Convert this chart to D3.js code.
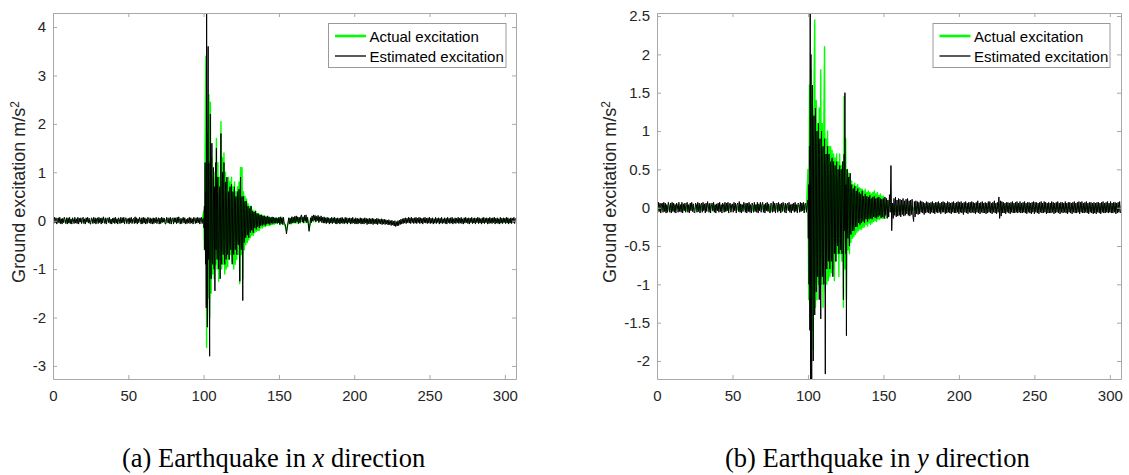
<!DOCTYPE html>
<html>
<head>
<meta charset="utf-8">
<script src="https://cdn.jsdelivr.net/npm/d3@7"></script>
<style>
  html, body { margin: 0; padding: 0; background: #fff; }
  svg { display: block; }
</style>
</head>
<body>
<svg id="chart" width="1129" height="475"></svg>
<script>
// ---------------- DATA ----------------
const xTicks = [0, 50, 100, 150, 200, 250, 300];
const xDomain = [0, 307.4];
const yTicksA = [-3, -2, -1, 0, 1, 2, 3, 4];
const yDomainA = [-3.27, 4.29];
const yTicksB = [-2, -1.5, -1, -0.5, 0, 0.5, 1, 1.5, 2, 2.5];
const yDomainB = [-2.235, 2.54];
const seriesNames = ["Actual excitation", "Estimated excitation"];
const captionsA = ["(a) Earthquake in ", "x", " direction"];
const captionsB = ["(b) Earthquake in ", "y", " direction"];
const yLabelText = "Ground excitation m/s";

// sampling of each record segment: [start time, time step]
const sampActual = { pre: [0, 1], strong: [100, 0.5], tail: [150, 1] };
const sampEstimated = { pre: [0, 0.5], strong: [100, 0.25], tail: [150, 0.5] };

// ---- (a) x direction: actual ----
const xActualPre = [
0.02,-0.01,0.02,-0.03,0.01,0.02,-0.02,0.01,-0.03,0.02,
0.01,-0.02,0.03,-0.01,0.02,-0.02,0.01,0.03,-0.02,0.01,
-0.03,0.02,-0.01,0.02,0.01,-0.02,0.03,-0.01,0.02,-0.03,
0.01,0.02,-0.02,0.01,0.03,-0.01,0.02,-0.03,0.01,0.02,
-0.02,0.03,-0.01,0.02,-0.02,0.01,-0.03,0.02,0.01,-0.02,
0.02,-0.01,0.03,-0.02,0.01,-0.03,0.02,0.01,-0.01,0.03,
-0.02,0.01,0.02,-0.03,0.02,-0.01,0.03,-0.02,0.01,0.02,
-0.01,0.03,-0.02,0.01,-0.02,0.02,-0.03,0.01,0.02,-0.01,
0.02,-0.03,0.01,0.02,-0.02,0.03,-0.01,0.01,-0.02,0.02,
-0.01,0.03,-0.02,0.01,0.02,-0.03,0.02,-0.01,0.01,-0.02];
const xActualStrong = [
0.20,-0.60,1.50,3.40,-2.62,1.80,-1.60,2.60,-2.00,2.45,
-1.50,1.30,-1.10,0.90,-1.20,1.00,-0.90,1.70,-1.00,1.20,
-1.25,0.90,-0.80,2.05,-1.00,1.30,-0.90,1.40,-1.10,1.00,
-1.00,0.80,-0.95,0.90,-0.80,0.80,-0.70,0.90,-0.85,0.70,
-1.00,0.80,-0.90,0.60,-0.80,0.70,-0.70,0.80,-1.30,1.10,
-0.70,1.10,-1.20,0.60,-0.60,0.50,-0.50,0.45,-0.45,0.35,
-0.40,0.30,-0.35,0.30,-0.30,0.22,-0.30,0.20,-0.25,0.20,
-0.22,0.15,-0.20,0.15,-0.20,0.12,-0.15,0.12,-0.15,0.10,
-0.12,0.10,-0.12,0.08,-0.10,0.08,-0.10,0.06,-0.10,0.06,
-0.08,0.06,-0.08,0.05,-0.07,0.05,-0.06,0.05,-0.06,0.04];
const xActualTail = [
0.06,-0.08,0.07,-0.06,-0.10,-0.20,-0.06,0.05,-0.07,0.07,
-0.05,0.06,-0.05,0.04,-0.05,0.07,-0.03,0.08,-0.04,0.03,
-0.16,-0.05,0.06,-0.02,0.08,0.01,0.07,-0.01,0.06,0.01,
0.05,-0.02,0.04,-0.03,0.03,-0.02,0.04,-0.03,0.03,-0.04,
0.02,-0.03,0.04,-0.02,0.03,-0.04,0.02,-0.03,0.03,-0.03,
0.02,-0.04,0.03,-0.03,0.02,-0.04,0.03,-0.02,0.02,-0.05,
0.01,-0.04,0.03,-0.03,0.01,-0.05,0.02,-0.04,0.01,-0.03,
0.00,-0.05,-0.01,-0.06,-0.02,-0.07,-0.04,-0.09,-0.06,-0.08,
-0.03,-0.05,0.00,-0.03,0.02,-0.02,0.03,-0.01,0.04,-0.02,
0.03,-0.01,0.04,-0.02,0.03,-0.02,0.04,-0.02,0.02,-0.01,
0.03,-0.02,0.01,-0.03,0.02,-0.01,0.03,-0.03,0.01,-0.02,
0.03,-0.01,0.02,-0.03,0.01,-0.02,0.03,-0.01,0.02,-0.03,
0.04,-0.01,0.02,-0.02,0.03,-0.01,0.04,-0.02,0.01,-0.03,
0.02,-0.01,0.04,-0.02,0.03,-0.03,0.01,-0.02,0.03,-0.01,
0.02,-0.03,0.04,-0.01,0.02,-0.02,0.03,-0.04,0.01,-0.02,
0.03,-0.01,0.02,-0.03,0.04,-0.01,0.02,-0.02];

// ---- (a) x direction: estimated ----
const xEstimatedPre = [
0.05,-0.06,0.07,-0.04,0.06,-0.07,0.03,0.06,-0.05,0.07,-0.06,0.04,-0.07,0.05,-0.04,0.07,0.02,-0.06,0.06,-0.07,
0.06,-0.05,0.07,-0.06,0.03,-0.07,0.06,0.02,-0.06,0.07,-0.05,0.04,-0.06,0.07,-0.07,0.05,-0.03,0.06,-0.06,0.04,
0.07,-0.06,0.04,-0.07,0.06,-0.03,0.07,-0.05,0.05,-0.06,-0.07,0.06,0.03,-0.06,0.07,-0.05,0.06,-0.07,0.04,0.06,
-0.06,0.07,-0.04,0.05,-0.07,0.06,-0.05,0.08,0.01,-0.06,0.06,-0.07,0.04,0.06,-0.04,0.07,-0.06,0.03,-0.07,0.05,
-0.04,0.06,-0.06,0.07,-0.05,0.04,-0.07,0.06,0.03,-0.06,0.07,-0.05,0.06,-0.04,0.07,-0.07,0.05,0.06,-0.06,0.03,
0.05,-0.07,0.06,-0.04,0.07,-0.06,0.03,0.05,-0.06,0.08,-0.05,0.06,-0.07,0.04,-0.04,0.07,0.02,-0.07,0.06,-0.06,
0.07,-0.05,0.06,-0.07,0.04,-0.06,0.07,0.03,-0.05,0.06,-0.06,0.04,-0.07,0.06,-0.06,0.05,-0.04,0.07,-0.06,0.02,
0.06,-0.07,0.05,-0.06,0.07,-0.04,0.06,-0.03,0.05,-0.07,-0.06,0.07,0.03,-0.05,0.06,-0.06,0.07,-0.07,0.04,0.06,
-0.07,0.06,-0.03,0.06,-0.06,0.07,-0.05,0.08,0.01,-0.07,0.05,-0.06,0.04,0.07,-0.05,0.06,-0.07,0.03,-0.06,0.05,
-0.05,0.07,-0.06,0.06,-0.05,0.04,-0.07,0.07,0.03,-0.06,0.06,-0.05,0.07,-0.04,0.06,-0.07,0.05,0.07,-0.06,0.04];
const xEstimatedStrong = [
0.05,-0.15,0.30,-0.60,1.20,-0.90,0.60,-1.80,
4.40,-1.20,-2.20,1.70,3.60,-0.80,1.20,-1.50,
-2.80,0.90,2.20,-1.00,-1.20,0.80,1.60,-0.70,
-0.90,0.60,1.10,-0.50,-1.00,0.70,-1.45,0.50,
1.20,-0.60,1.50,-0.50,-0.80,0.60,0.90,-0.70,
-1.00,0.50,0.70,-0.60,-1.20,0.40,1.80,-0.50,
-0.90,0.60,1.00,-0.50,-0.70,0.50,1.20,-0.60,
-0.90,0.50,0.80,-0.40,-0.80,0.50,0.90,-0.50,
-0.70,0.40,0.60,-0.50,-0.80,0.45,0.70,-0.40,
-0.60,0.50,0.75,-0.40,-0.90,0.40,0.60,-0.45,
-0.70,0.40,0.70,-0.35,-0.60,0.40,0.50,-0.40,
-0.70,0.35,0.60,-0.40,-0.50,0.35,0.65,-0.30,
-1.25,0.40,0.90,-0.35,-0.60,0.30,0.50,-0.40,
-1.65,0.30,0.50,-0.30,-0.45,0.25,0.40,-0.30,
-0.35,0.25,0.40,-0.20,-0.30,0.20,0.30,-0.25,
-0.35,0.20,0.25,-0.20,-0.25,0.18,0.30,-0.15,
-0.20,0.15,0.20,-0.15,-0.25,0.12,0.18,-0.12,
-0.15,0.12,0.20,-0.10,-0.18,0.10,0.15,-0.12,
-0.12,0.10,0.14,-0.08,-0.15,0.08,0.12,-0.10,
-0.10,0.08,0.12,-0.08,-0.10,0.07,0.10,-0.06,
-0.08,0.06,0.10,-0.07,-0.10,0.05,0.08,-0.07,
-0.07,0.06,0.10,-0.05,-0.06,0.05,0.08,-0.06,
-0.08,0.05,0.06,-0.05,-0.05,0.06,0.08,-0.04,
-0.06,0.05,0.07,-0.04,-0.05,0.04,0.06,-0.05,
-0.04,0.05,0.06,-0.05,-0.05,0.04,0.05,-0.04];
const xEstimatedTail = [
0.07,-0.08,0.08,-0.06,0.06,-0.08,0.07,-0.05,-0.06,-0.14,-0.27,-0.16,-0.05,0.06,-0.07,0.05,-0.06,0.08,-0.05,0.07,
-0.04,0.09,-0.05,0.10,-0.02,0.08,-0.06,0.07,-0.04,0.09,0.12,-0.03,0.08,-0.05,0.11,-0.01,0.12,-0.04,0.07,-0.06,
-0.22,-0.10,0.06,-0.04,0.10,-0.01,0.12,0.01,0.11,-0.03,0.09,0.00,0.11,-0.04,0.08,-0.01,0.10,-0.04,0.07,-0.05,
0.08,-0.05,0.06,-0.06,0.07,-0.04,0.06,-0.07,0.05,-0.05,0.07,-0.06,0.06,-0.04,0.07,-0.06,0.05,-0.07,0.06,-0.05,
0.05,-0.07,0.06,-0.05,0.07,-0.06,0.04,-0.06,0.07,-0.05,0.06,-0.07,0.05,-0.04,0.06,-0.07,0.05,-0.06,0.07,-0.05,
0.04,-0.07,0.06,-0.06,0.05,-0.07,0.04,-0.05,0.06,-0.07,0.05,-0.06,0.04,-0.07,0.06,-0.05,0.05,-0.08,0.04,-0.06,
0.05,-0.07,0.04,-0.06,0.05,-0.08,0.04,-0.06,0.03,-0.07,0.05,-0.08,0.04,-0.06,0.03,-0.07,0.04,-0.08,0.03,-0.07,
0.03,-0.08,0.02,-0.07,0.01,-0.09,0.02,-0.08,0.00,-0.10,0.01,-0.09,-0.01,-0.11,0.00,-0.12,-0.02,-0.11,0.00,-0.10,
0.01,-0.08,0.03,-0.07,0.04,-0.06,0.05,-0.05,0.06,-0.06,0.05,-0.04,0.07,-0.05,0.06,-0.06,0.07,-0.04,0.05,-0.06,
0.06,-0.05,0.07,-0.06,0.05,-0.04,0.07,-0.06,0.06,-0.05,0.05,-0.07,0.06,-0.04,0.07,-0.05,0.05,-0.06,0.06,-0.05,
0.07,-0.06,0.05,-0.05,0.06,-0.07,0.04,-0.05,0.07,-0.06,0.05,-0.04,0.06,-0.07,0.05,-0.05,0.07,-0.06,0.04,-0.05,
0.06,-0.06,0.05,-0.07,0.07,-0.04,0.05,-0.06,0.06,-0.05,0.07,-0.07,0.04,-0.05,0.06,-0.06,0.05,-0.04,0.07,-0.06,
0.05,-0.05,0.07,-0.06,0.04,-0.07,0.06,-0.05,0.07,-0.04,0.05,-0.06,0.06,-0.07,0.05,-0.04,0.07,-0.06,0.05,-0.05,
0.06,-0.07,0.05,-0.04,0.07,-0.06,0.06,-0.05,0.04,-0.07,0.06,-0.05,0.07,-0.06,0.05,-0.04,0.06,-0.07,0.05,-0.06,
0.07,-0.05,0.05,-0.06,0.06,-0.04,0.07,-0.07,0.05,-0.05,0.06,-0.06,0.04,-0.07,0.07,-0.05,0.05,-0.06,0.06,-0.04,
0.05,-0.06,0.07,-0.05,0.06,-0.07,0.04,-0.05,0.06,-0.06,0.05,-0.04,0.07,-0.06,0.05];

// ---- (b) y direction: actual ----
const yActualPre = [
0.03,-0.02,0.04,-0.03,0.02,0.03,-0.04,0.02,-0.03,0.04,
0.01,-0.03,0.04,-0.02,0.03,-0.04,0.02,0.03,-0.03,0.02,
-0.04,0.03,-0.02,0.04,0.01,-0.03,0.04,-0.02,0.03,-0.04,
0.02,0.03,-0.03,0.02,0.04,-0.02,0.03,-0.04,0.02,0.03,
-0.03,0.04,-0.02,0.03,-0.03,0.02,-0.04,0.03,0.01,-0.03,
0.03,-0.02,0.04,-0.03,0.02,-0.04,0.03,0.02,-0.02,0.04,
-0.03,0.02,0.03,-0.04,0.03,-0.02,0.04,-0.03,0.02,0.03,
-0.02,0.04,-0.03,0.02,-0.03,0.03,-0.04,0.02,0.03,-0.02,
0.03,-0.04,0.02,0.03,-0.03,0.04,-0.02,0.02,-0.03,0.03,
-0.02,0.04,-0.03,0.02,0.03,-0.04,0.03,-0.02,0.02,-0.03];
const yActualStrong = [
0.50,-1.20,1.60,-1.40,1.80,-1.60,1.30,-1.85,1.50,2.45,
-1.30,1.40,-1.20,1.10,-1.00,1.30,-1.10,1.80,-1.00,1.10,
-1.30,1.00,2.10,-1.10,0.90,-1.00,1.00,-0.95,0.80,-0.90,
0.80,-0.85,0.75,-0.80,0.70,-0.95,0.65,-0.70,0.70,-0.60,
0.60,-0.90,0.70,-0.60,0.55,-0.70,0.60,-1.30,1.45,-0.80,
0.90,-1.20,0.50,-0.55,0.45,-0.60,0.40,-0.45,0.35,-0.40,
0.30,-0.38,0.32,-0.35,0.28,-0.32,0.30,-0.30,0.26,-0.28,
0.25,-0.28,0.24,-0.26,0.22,-0.25,0.24,-0.22,0.20,-0.24,
0.22,-0.20,0.20,-0.22,0.18,-0.20,0.20,-0.18,0.22,-0.17,
0.18,-0.18,0.20,-0.15,0.16,-0.15,0.18,-0.14,0.15,-0.14];
const yActualTail = [
0.15,-0.14,0.12,-0.12,0.08,0.02,-0.05,0.04,-0.05,0.03,
-0.04,0.03,-0.03,0.04,-0.03,0.03,-0.04,0.03,-0.03,0.02,
-0.03,0.03,-0.02,0.03,-0.03,0.02,-0.03,0.03,-0.02,0.02,
0.02,-0.03,0.03,-0.02,0.02,-0.03,0.03,-0.02,0.02,-0.03,
0.03,-0.02,0.02,-0.03,0.03,-0.02,0.02,-0.03,0.02,-0.02,
0.03,-0.03,0.02,-0.02,0.03,-0.02,0.02,-0.03,0.03,-0.02,
0.02,-0.03,0.02,-0.02,0.03,-0.03,0.02,-0.02,0.03,-0.02,
0.02,-0.03,0.03,-0.02,0.02,-0.03,0.03,0.04,-0.03,0.02,
-0.02,0.03,-0.03,0.02,-0.02,0.03,-0.02,0.02,-0.03,0.03,
-0.02,0.02,-0.03,0.03,-0.02,0.02,-0.03,0.02,-0.02,0.03,
-0.03,0.02,-0.02,0.03,-0.02,0.02,-0.03,0.03,-0.02,0.02,
-0.03,0.02,-0.02,0.03,-0.03,0.02,-0.02,0.03,-0.02,0.02,
-0.03,0.03,-0.02,0.02,-0.03,0.02,-0.02,0.03,-0.03,0.02,
-0.02,0.03,-0.02,0.02,-0.03,0.03,-0.02,0.02,-0.03,0.02,
-0.02,0.03,-0.03,0.02,-0.02,0.03,-0.02,0.02,-0.03,0.03,
-0.02,0.02,-0.03,0.03,-0.02,0.02,-0.03,0.02];

// ---- (b) y direction: estimated ----
const yEstimatedPre = [
0.06,-0.06,0.07,-0.05,0.06,-0.07,0.05,0.06,-0.06,0.07,-0.05,0.06,-0.07,0.04,-0.06,0.07,0.03,-0.06,0.06,-0.07,
0.07,-0.05,0.06,-0.06,0.04,-0.07,0.06,0.03,-0.06,0.07,-0.05,0.04,-0.06,0.07,-0.07,0.05,-0.04,0.06,-0.06,0.04,
0.07,-0.06,0.04,-0.07,0.06,-0.04,0.07,-0.05,0.05,-0.06,-0.07,0.06,0.04,-0.06,0.07,-0.05,0.06,-0.07,0.04,0.06,
-0.06,0.07,-0.04,0.05,-0.07,0.06,-0.05,0.08,0.02,-0.06,0.06,-0.07,0.04,0.06,-0.04,0.07,-0.06,0.04,-0.07,0.05,
-0.04,0.06,-0.06,0.07,-0.05,0.04,-0.07,0.06,0.04,-0.06,0.07,-0.05,0.06,-0.04,0.07,-0.07,0.05,0.06,-0.06,0.04,
0.05,-0.06,0.07,-0.04,0.06,-0.07,0.04,0.06,-0.05,0.08,-0.06,0.05,-0.07,0.04,-0.05,0.07,0.03,-0.06,0.06,-0.07,
0.06,-0.05,0.07,-0.06,0.04,-0.07,0.06,0.03,-0.06,0.07,-0.05,0.04,-0.06,0.07,-0.07,0.05,-0.04,0.07,-0.06,0.04,
0.07,-0.06,0.04,-0.07,0.06,-0.04,0.07,-0.05,0.05,-0.06,-0.07,0.06,0.04,-0.06,0.08,-0.05,0.06,-0.07,0.04,0.06,
-0.06,0.07,-0.04,0.05,-0.07,0.06,-0.05,0.07,0.02,-0.06,0.06,-0.07,0.04,0.06,-0.04,0.07,-0.06,0.04,-0.07,0.05,
-0.04,0.06,-0.06,0.07,-0.05,0.04,-0.07,0.06,0.04,-0.06,0.07,-0.05,0.06,-0.04,0.07,-0.07,0.05,0.06,-0.06,0.04];
const yEstimatedStrong = [
0.10,-0.40,0.30,-1.00,0.80,-1.60,2.60,-2.30,
2.00,-1.00,-2.30,1.20,1.60,-0.90,-2.00,0.80,
1.20,-0.70,-1.40,0.90,1.30,-0.80,-1.10,0.70,
1.00,-0.60,-0.90,0.70,1.10,-0.60,-1.20,0.80,
0.90,-0.70,-1.45,0.60,1.00,-0.50,-0.90,0.60,
0.80,-0.60,-1.00,0.50,0.90,-0.60,-2.17,0.50,
0.70,-0.50,-0.80,0.60,0.80,-0.50,-0.70,0.50,
0.70,-0.50,-0.80,0.40,0.60,-0.50,-0.70,0.45,
0.65,-0.40,-0.90,0.50,0.60,-0.40,-0.60,0.40,
0.55,-0.45,-0.70,0.40,0.60,-0.40,-0.50,0.35,
0.50,-0.40,-0.60,0.35,0.55,-0.40,-0.55,0.30,
0.50,-0.35,-0.60,0.40,0.60,-0.30,-1.20,0.40,
0.70,-0.30,1.50,-0.40,-0.60,0.30,-1.67,0.35,
0.50,-0.30,-0.40,0.30,0.40,-0.30,-0.50,0.25,
0.45,-0.25,-0.35,0.25,0.30,-0.20,-0.30,0.20,
0.25,-0.20,-0.30,0.20,0.28,-0.18,-0.25,0.15,
0.22,-0.15,-0.25,0.18,0.25,-0.15,-0.20,0.14,
0.20,-0.15,-0.22,0.14,0.18,-0.12,-0.20,0.12,
0.22,-0.12,-0.18,0.12,0.15,-0.10,-0.20,0.10,
0.18,-0.10,-0.15,0.12,0.15,-0.10,-0.18,0.10,
0.14,-0.10,-0.15,0.10,0.16,-0.08,-0.14,0.10,
0.12,-0.08,-0.15,0.10,0.14,-0.08,-0.12,0.09,
0.15,-0.08,-0.13,0.09,0.12,-0.07,-0.14,0.08,
0.13,-0.07,-0.12,0.08,0.14,-0.06,-0.10,0.08,
0.12,-0.07,-0.13,0.07,0.11,-0.06,-0.12,0.07];
const yEstimatedTail = [
0.12,-0.14,0.14,-0.10,0.12,-0.14,0.10,-0.12,0.17,-0.06,0.55,-0.30,0.06,-0.14,0.12,-0.10,0.14,-0.12,0.10,-0.11,
0.12,-0.10,0.11,-0.12,0.10,-0.09,0.12,-0.11,0.09,-0.10,0.11,-0.08,0.12,-0.10,0.09,-0.11,0.10,-0.09,0.11,-0.10,
-0.18,0.08,-0.12,0.09,-0.08,0.08,-0.09,0.07,-0.08,0.09,-0.06,0.08,-0.07,0.07,-0.09,0.06,-0.07,0.08,-0.06,0.07,
-0.07,0.06,-0.08,0.07,-0.06,0.08,-0.07,0.06,-0.08,0.07,-0.06,0.07,-0.07,0.08,-0.06,0.06,-0.08,0.07,-0.06,0.08,
-0.06,0.07,-0.08,0.06,-0.07,0.08,-0.06,0.07,-0.07,0.06,-0.08,0.07,-0.06,0.08,-0.07,0.06,-0.07,0.07,-0.06,0.08,
-0.08,0.07,-0.06,0.08,-0.07,0.06,-0.09,0.07,-0.06,0.08,-0.07,0.06,-0.08,0.07,-0.06,0.07,-0.07,0.08,-0.06,0.07,
-0.07,0.06,-0.08,0.07,-0.06,0.09,-0.07,0.06,-0.08,0.07,-0.06,0.08,-0.07,0.06,-0.07,0.07,-0.08,0.06,-0.07,0.08,
-0.06,0.08,-0.07,0.06,-0.08,0.07,-0.06,0.09,-0.07,0.06,-0.08,0.07,-0.06,0.14,-0.14,0.09,-0.11,0.08,-0.07,0.07,
-0.07,0.06,-0.08,0.07,-0.06,0.07,-0.07,0.06,-0.08,0.07,-0.06,0.08,-0.07,0.06,-0.07,0.07,-0.06,0.08,-0.07,0.06,
-0.06,0.08,-0.07,0.06,-0.07,0.07,-0.06,0.08,-0.07,0.06,-0.08,0.07,-0.06,0.07,-0.07,0.06,-0.08,0.07,-0.06,0.08,
-0.08,0.07,-0.06,0.07,-0.07,0.06,-0.08,0.07,-0.06,0.08,-0.07,0.06,-0.07,0.08,-0.06,0.07,-0.08,0.06,-0.07,0.07,
-0.07,0.06,-0.07,0.08,-0.06,0.07,-0.08,0.06,-0.07,0.07,-0.06,0.08,-0.07,0.06,-0.08,0.07,-0.06,0.07,-0.07,0.06,
-0.06,0.08,-0.07,0.06,-0.08,0.07,-0.06,0.07,-0.07,0.06,-0.08,0.07,-0.06,0.08,-0.07,0.06,-0.07,0.07,-0.06,0.08,
-0.08,0.07,-0.06,0.08,-0.07,0.06,-0.07,0.07,-0.06,0.08,-0.07,0.06,-0.08,0.07,-0.06,0.07,-0.07,0.06,-0.08,0.07,
-0.07,0.06,-0.08,0.07,-0.06,0.07,-0.07,0.06,-0.08,0.07,-0.06,0.08,-0.07,0.06,-0.07,0.07,-0.06,0.08,-0.07,0.06,
-0.06,0.08,-0.07,0.06,-0.07,0.07,-0.06,0.07,-0.08,0.06,-0.07,0.07,-0.06,0.08,-0.07];

// ---------------- DRAWING ----------------
function build(samp, pre, strong, tail) {
  const pts = [];
  [[samp.pre, pre], [samp.strong, strong], [samp.tail, tail]].forEach(([seg, vals]) => {
    vals.forEach((v, i) => pts.push({ t: seg[0] + i * seg[1], v: v }));
  });
  return pts;
}

const svg = d3.select("#chart");
const FONT = "'Liberation Sans', Arial, Helvetica, sans-serif";
const SERIF = "'Liberation Serif', 'Times New Roman', Times, serif";
const AXIS_COLOR = "#a8a8a8";
const TEXT_COLOR = "#262626";
const fmt = d => String(d);

function panel(cfg) {
  const x = d3.scaleLinear().domain(xDomain).range([cfg.left, cfg.right]);
  const y = d3.scaleLinear().domain(cfg.yDomain).range([cfg.bottom, cfg.top]);
  const g = svg.append("g");

  const clipId = "clip-" + cfg.id;
  svg.append("defs").append("clipPath").attr("id", clipId)
    .append("rect").attr("x", cfg.left).attr("y", cfg.top)
    .attr("width", cfg.right - cfg.left).attr("height", cfg.bottom - cfg.top);

  const line = d3.line().x(d => x(d.t)).y(d => y(d.v));
  const lines = g.append("g").attr("clip-path", `url(#${clipId})`);
  lines.append("path").datum(cfg.actual)
    .attr("fill", "none").attr("stroke", "#00ff00").attr("stroke-width", 1.4)
    .attr("stroke-linejoin", "round").attr("d", line);
  lines.append("path").datum(cfg.estimated)
    .attr("fill", "none").attr("stroke", "#000000").attr("stroke-width", 1.0)
    .attr("stroke-linejoin", "round").attr("d", line);

  const styleAxis = sel => {
    sel.select(".domain").attr("stroke", AXIS_COLOR).attr("stroke-width", 1);
    sel.selectAll(".tick line").attr("stroke", AXIS_COLOR);
    sel.selectAll(".tick text").attr("fill", TEXT_COLOR)
      .style("font-family", FONT).style("font-size", "15px");
  };

  g.append("g").attr("transform", `translate(0,${cfg.bottom})`)
    .call(d3.axisBottom(x).tickValues(xTicks).tickFormat(fmt).tickSizeInner(-4).tickSizeOuter(0).tickPadding(11))
    .call(styleAxis);
  g.append("g").attr("transform", `translate(0,${cfg.top})`)
    .call(d3.axisTop(x).tickValues(xTicks).tickSizeInner(-4).tickSizeOuter(0).tickFormat(""))
    .call(styleAxis);
  g.append("g").attr("transform", `translate(${cfg.left},0)`)
    .call(d3.axisLeft(y).tickValues(cfg.yTicks).tickFormat(fmt).tickSizeInner(-4).tickSizeOuter(0).tickPadding(7))
    .call(styleAxis);
  g.append("g").attr("transform", `translate(${cfg.right},0)`)
    .call(d3.axisRight(y).tickValues(cfg.yTicks).tickSizeInner(-4).tickSizeOuter(0).tickFormat(""))
    .call(styleAxis);
  g.selectAll(".domain").attr("fill", "none");

  // y label
  const yl = g.append("text")
    .attr("transform", `translate(${cfg.ylabelX},${(cfg.top + cfg.bottom) / 2 - 4}) rotate(-90)`)
    .attr("text-anchor", "middle").attr("fill", TEXT_COLOR)
    .style("font-family", FONT).style("font-size", "18px");
  yl.append("tspan").text(yLabelText);
  yl.append("tspan").text("2").attr("dy", "-0.5em").style("font-size", "12px");

  // legend
  const L = cfg.legend;
  const lg = g.append("g");
  lg.append("rect").attr("x", L.x).attr("y", L.y).attr("width", L.w).attr("height", L.h)
    .attr("fill", "#fff").attr("stroke", "#9a9a9a").attr("stroke-width", 1);
  const legendItems = [
    { name: seriesNames[0], color: "#00ff00", width: 2.6 },
    { name: seriesNames[1], color: "#000000", width: 1.3 }
  ];
  legendItems.forEach((it, i) => {
    const cy = L.y + 12.5 + i * 20;
    lg.append("line").attr("x1", L.x + 6.5).attr("x2", L.x + 37.5)
      .attr("y1", cy).attr("y2", cy).attr("stroke", it.color).attr("stroke-width", it.width);
    lg.append("text").attr("x", L.x + 41).attr("y", cy + 5.5)
      .attr("fill", "#000").style("font-family", FONT).style("font-size", "15px").text(it.name);
  });

  // caption
  const cap = svg.append("text").attr("x", cfg.captionX).attr("y", 467)
    .attr("fill", "#000").style("font-family", SERIF).style("font-size", "26.5px");
  cap.append("tspan").text(cfg.caption[0]);
  cap.append("tspan").text(cfg.caption[1]).style("font-style", "italic");
  cap.append("tspan").text(cfg.caption[2]);
}

panel({
  id: "a", left: 53, right: 516, top: 13, bottom: 379,
  yDomain: yDomainA, yTicks: yTicksA,
  actual: build(sampActual, xActualPre, xActualStrong, xActualTail),
  estimated: build(sampEstimated, xEstimatedPre, xEstimatedStrong, xEstimatedTail),
  ylabelX: 25, legend: { x: 328.5, y: 23.5, w: 177.5, h: 44 },
  caption: captionsA, captionX: 122
});
panel({
  id: "b", left: 657, right: 1121, top: 13, bottom: 379,
  yDomain: yDomainB, yTicks: yTicksB,
  actual: build(sampActual, yActualPre, yActualStrong, yActualTail),
  estimated: build(sampEstimated, yEstimatedPre, yEstimatedStrong, yEstimatedTail),
  ylabelX: 616, legend: { x: 933, y: 23.5, w: 177, h: 44 },
  caption: captionsB, captionX: 725
});
</script>
</body>
</html>
